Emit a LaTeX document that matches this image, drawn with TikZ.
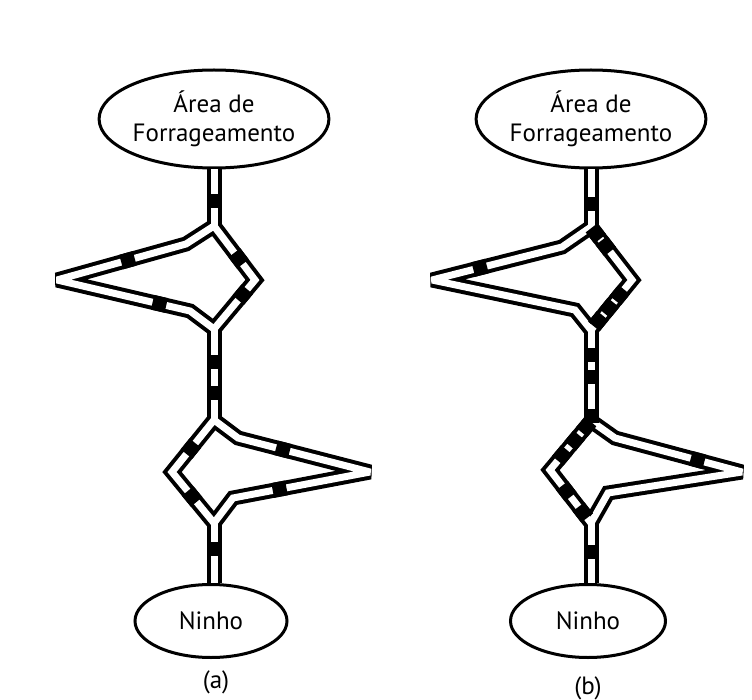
\documentclass[tikz,border=0pt]{standalone}
\usepackage{fontspec}
\setmainfont{PT Sans}
\usetikzlibrary{shapes.geometric}
\begin{document}
\begin{tikzpicture}[x=1pt,y=-1pt,
  place/.style={draw,ellipse,line width=3pt,fill=white,inner sep=0pt,
    align=center,font=\fontsize{25}{29}\selectfont},
  trail/.style={line width=15pt,line join=miter,miter limit=2},
  trailin/.style={trail,line width=7pt,white},
  ant/.style={fill=black,inner sep=0pt,minimum width=14pt,minimum height=15pt,sloped}]

\useasboundingbox (0,0) rectangle (752,700);

% Places
\node[place,minimum width=206pt,minimum height=98pt] (forA) at (214,119) {Área de\\Forrageamento};
\node[place,minimum width=152pt,minimum height=73pt] (nestA) at (211,621) {Ninho};
\node[place,minimum width=208pt,minimum height=98pt] (forB) at (591,119) {Área de\\Forrageamento};
\node[place,minimum width=155pt,minimum height=73pt] (nestB) at (588,621) {Ninho};

% Captions
\node[font=\fontsize{25}{29}\selectfont] (capA) at (216,682) {(a)};
\node[font=\fontsize{25}{29}\selectfont] (capB) at (588,688) {(b)};

% Branch points (a)
\coordinate (a1) at (214,226);
\coordinate (a2) at (186,244);
\coordinate (a3) at (57,280);
\coordinate (a4) at (190,311);
\coordinate (a5) at (214,329);
\coordinate (a6) at (255,280);
\coordinate (b1) at (214,420);
\coordinate (b2) at (238,438);
\coordinate (b3) at (370,472);
\coordinate (b4) at (233,498);
\coordinate (b5) at (214,523);
\coordinate (b6) at (172,472);

% Branch points (b)
\coordinate (c1) at (591,227);
\coordinate (c2) at (562,247);
\coordinate (c3) at (432,280);
\coordinate (c4) at (575,310);
\coordinate (c5) at (591,330);
\coordinate (c6) at (632,280);
\coordinate (d1) at (591,421);
\coordinate (d2) at (615,438);
\coordinate (d3) at (742,472);
\coordinate (d4) at (608,493);
\coordinate (d5) at (591,523);
\coordinate (d6) at (550,470);

% Trails
\foreach \s in {trail,trailin}{
  \draw[\s] (forA.south) -- (a1);
  \draw[\s] (a1) -- (a2) -- (a3) -- (a4) -- (a5) -- (a6) -- cycle;
  \draw[\s] (a5) -- (b1);
  \draw[\s] (b1) -- (b2) -- (b3) -- (b4) -- (b5) -- (b6) -- cycle;
  \draw[\s] (b5) -- (b5 |- nestA.north);
  \draw[\s] (forB.south) -- (c1);
  \draw[\s] (c1) -- (c2) -- (c3) -- (c4) -- (c5) -- (c6) -- cycle;
  \draw[\s] (c5) -- (d1);
  \draw[\s] (d1) -- (d2) -- (d3) -- (d4) -- (d5) -- (d6) -- cycle;
  \draw[\s] (d5) -- (d5 |- nestB.north);
}

% Ants (a)
\path (forA.south) -- (a1) node[ant,pos=.55]{};
\path (a2) -- (a3) node[ant,pos=.45]{};
\path (a3) -- (a4) node[ant,pos=.77]{};
\path (a1) -- (a6) node[ant,pos=.6]{};
\path (a6) -- (a5) node[ant,pos=.3]{};
\path (a5) -- (b1) node[ant,pos=.36]{} node[ant,pos=.7]{};
\path (b1) -- (b6) node[ant,pos=.55]{};
\path (b6) -- (b5) node[ant,pos=.48]{};
\path (b2) -- (b3) node[ant,pos=.34]{};
\path (b3) -- (b4) node[ant,pos=.66]{};
\path (b5) -- (b5 |- nestA.north) node[ant,pos=.44]{};

% Ants (b)
\path (forB.south) -- (c1) node[ant,pos=.6]{};
\path (c2) -- (c3) node[ant,pos=.63]{};
\foreach \p in {.12,.36} \path (c1) -- (c6) node[ant,pos=\p]{};
\foreach \p in {.3,.56,.82} \path (c6) -- (c5) node[ant,pos=\p]{};
\foreach \p in {.28,.52,.95} \path (c5) -- (d1) node[ant,pos=\p]{};
\foreach \p in {.12,.4,.7} \path (d1) -- (d6) node[ant,pos=\p]{};
\foreach \p in {.4,.8} \path (d6) -- (d5) node[ant,pos=\p]{};
\path (d2) -- (d3) node[ant,pos=.65]{};
\path (d5) -- (d5 |- nestB.north) node[ant,pos=.48]{};

\end{tikzpicture}
\end{document}
